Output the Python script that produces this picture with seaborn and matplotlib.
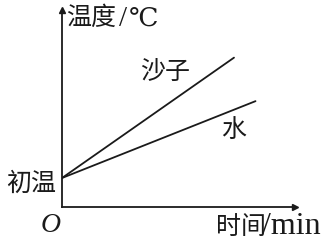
import matplotlib
matplotlib.use("Agg")
import matplotlib.pyplot as plt
import seaborn as sns
import pandas as pd

# data (arbitrary units)
time_sand = [0, 8.0]
temp_sand = [2.0, 10.3]
time_water = [0, 9.0]
temp_water = [2.0, 7.3]
series_names = ["沙子", "水"]
x_label = "时间/min"
y_label = "温度/℃"
start_label = "初温"
origin_label = "O"

sns.set_theme(style="white")
plt.rcParams['font.family'] = ['Noto Sans CJK SC', 'DejaVu Sans']

W, H = 329, 243
fig = plt.figure(figsize=(W / 100, H / 100), dpi=100)
x0, y0 = 62, 207          # origin pixel
x1, y1 = 295, 10          # arrow tips
ax = fig.add_axes([x0 / W, (H - y0) / H, (x1 - x0) / W, (y0 - y1) / H])
ax.patch.set_alpha(0)

df = pd.DataFrame({
    "t": time_sand + time_water,
    "T": temp_sand + temp_water,
    "s": [series_names[0]] * 2 + [series_names[1]] * 2,
})
sns.lineplot(data=df, x="t", y="T", hue="s", palette=["#1a1a1a", "#1a1a1a"],
             linewidth=1.3, legend=False, ax=ax)

ax.set_xlim(0, (x1 - x0) / 21.5)
ax.set_ylim(0, (y0 - y1) / 14.5)
ax.set_xticks([]); ax.set_yticks([])
ax.set_xlabel(""); ax.set_ylabel("")
for s in ["top", "right"]:
    ax.spines[s].set_visible(False)
for s in ["left", "bottom"]:
    ax.spines[s].set_color("#1a1a1a")
    ax.spines[s].set_linewidth(1.3)
ax.plot(1, 0, ">", color="#1a1a1a", ms=5, transform=ax.get_yaxis_transform(), clip_on=False)
ax.plot(0, 1, "^", color="#1a1a1a", ms=5, transform=ax.get_xaxis_transform(), clip_on=False)

fs = 18
tc = "#1a1a1a"
def px(x, y):
    return x / W, 1 - y / H

fig.text(*px(66, 18), "温度", fontsize=fs, color=tc, ha="left", va="center")
fig.text(*px(119, 19), "/", fontsize=21, color=tc, ha="left", va="center",
         family="Liberation Serif")
fig.text(*px(129, 18), "℃", fontsize=fs + 1, color=tc, ha="left", va="center",
         family="DejaVu Serif")
fig.text(*px(165, 72), series_names[0], fontsize=fs, color=tc, ha="center", va="center")
fig.text(*px(234, 130), series_names[1], fontsize=fs, color=tc, ha="center", va="center")
fig.text(*px(56, 184), start_label, fontsize=fs, color=tc, ha="right", va="center")
fig.text(*px(51, 225), origin_label, fontsize=20, color=tc, ha="center", va="center",
         family="Liberation Serif", style="italic")
fig.text(*px(216, 227), "时间", fontsize=fs, color=tc, ha="left", va="center")
fig.text(*px(262, 226), "/min", fontsize=23, color=tc, ha="left", va="center",
         family="Liberation Serif")

fig.savefig("out.png", dpi=100, facecolor="white")
